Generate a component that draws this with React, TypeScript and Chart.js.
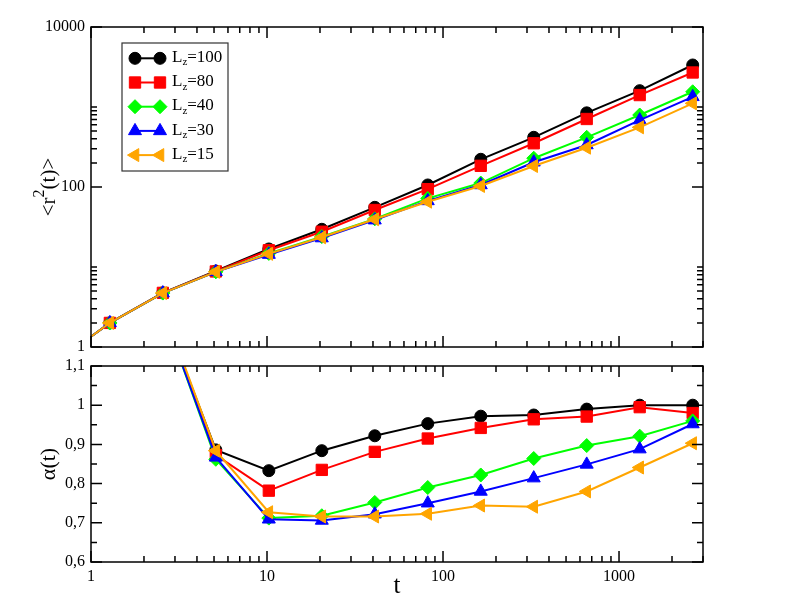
import React, { useEffect, useRef } from 'react';
import { Chart, registerables } from 'chart.js';
import { drawPoint } from 'chart.js/helpers';

Chart.register(...registerables);

// ---------- data ----------
const T_MSD = [0.64, 1.28, 2.56, 5.12, 10.24, 20.48, 40.96, 81.92, 163.84, 327.68, 655.36, 1310.72, 2621.44];
const MSD_LZ100 = [0.66, 2.0, 4.75, 8.9, 16.8, 29.6, 55.7, 106, 222, 418, 845, 1600, 3350];
const MSD_LZ80 = [0.66, 2.0, 4.75, 8.8, 16.2, 27.6, 51.6, 94, 184, 352, 708, 1410, 2700];
const MSD_LZ40 = [0.66, 2.0, 4.72, 8.7, 14.8, 24.0, 40.0, 72, 112, 229, 418, 794, 1550];
const MSD_LZ30 = [0.66, 2.0, 4.72, 8.7, 14.3, 23.0, 38.5, 67, 106, 204, 335, 686, 1340];
const MSD_LZ15 = [0.66, 2.0, 4.72, 8.7, 14.6, 23.5, 39.5, 65.5, 103, 183, 310, 557, 1110];

const T_ALPHA = [2.56, 5.12, 10.24, 20.48, 40.96, 81.92, 163.84, 327.68, 655.36, 1310.72, 2621.44];
const ALPHA_LZ100 = [1.24, 0.886, 0.833, 0.884, 0.922, 0.953, 0.972, 0.975, 0.990, 1.0, 1.0];
const ALPHA_LZ80 = [1.24, 0.873, 0.782, 0.835, 0.881, 0.915, 0.942, 0.964, 0.971, 0.995, 0.980];
const ALPHA_LZ40 = [1.24, 0.862, 0.712, 0.718, 0.752, 0.790, 0.822, 0.864, 0.897, 0.921, 0.960];
const ALPHA_LZ30 = [1.24, 0.867, 0.709, 0.706, 0.722, 0.750, 0.780, 0.814, 0.849, 0.888, 0.952];
const ALPHA_LZ15 = [1.25, 0.884, 0.727, 0.716, 0.716, 0.723, 0.744, 0.741, 0.780, 0.841, 0.903];

const SERIES_LZ = ['100', '80', '40', '30', '15'];
const MSD_SERIES = [MSD_LZ100, MSD_LZ80, MSD_LZ40, MSD_LZ30, MSD_LZ15];
const ALPHA_SERIES = [ALPHA_LZ100, ALPHA_LZ80, ALPHA_LZ40, ALPHA_LZ30, ALPHA_LZ15];

const X_TICKS = [1, 10, 100, 1000];
const MSD_TICKS = [1, 100, 10000];
const ALPHA_TICKS = [0.6, 0.7, 0.8, 0.9, 1.0, 1.1];

// ---------- styles ----------
const COLORS = ['#000000', '#ff0000', '#00ff00', '#0000ff', '#ffa500'];
const MARKERS = [
  { pointStyle: 'circle', radius: 6, rotation: 0 },
  { pointStyle: 'rect', radius: 8, rotation: 0 },
  { pointStyle: 'rectRot', radius: 7, rotation: 0 },
  { pointStyle: 'triangle', radius: 7.5, rotation: 0 },
  { pointStyle: 'triangle', radius: 7.5, rotation: -90 },
];

const W = 789;
const H = 610;
const LEFT = 91;
const RIGHT = 703;
const TOP1 = 27;
const BOT1 = 347;
const TOP2 = 366;
const BOT2 = 562;
const XAXIS_H = 40;
const SERIF = '"Liberation Serif", "Times New Roman", serif';

function makeDatasets(ts: number[], series: number[][]) {
  return series.map((vals, i) => ({
    label: 'Lz=' + SERIES_LZ[i],
    data: ts.map((t, j) => ({ x: t, y: vals[j] })),
    borderColor: COLORS[i],
    backgroundColor: COLORS[i],
    borderWidth: 2,
    pointStyle: MARKERS[i].pointStyle,
    pointRadius: MARKERS[i].radius,
    pointRotation: MARKERS[i].rotation,
    pointBorderWidth: 1,
    pointBorderColor: COLORS[i],
    pointBackgroundColor: COLORS[i],
    tension: 0,
    order: series.length - i,
    clip: 0,
  }));
}

function xMinorTicks() {
  const out: number[] = [];
  for (let k = 0; k < 4; k++) for (let m = 2; m <= 9; m++) out.push(m * Math.pow(10, k));
  return out;
}

function framePlugin(id: string, yMajor: number[], yMinor: number[]) {
  const xMinor = xMinorTicks();
  return {
    id,
    afterDraw(chart: any) {
      const { ctx, chartArea: a, scales } = chart;
      const xs = scales.x;
      const ys = scales.y;
      const MAJ = 11;
      const MIN = 6;
      ctx.save();
      ctx.strokeStyle = '#000';
      ctx.lineWidth = 1.5;
      ctx.beginPath();
      const tickX = (v: number, len: number) => {
        const px = xs.getPixelForValue(v);
        if (px < a.left - 0.5 || px > a.right + 0.5) return;
        ctx.moveTo(px, a.bottom);
        ctx.lineTo(px, a.bottom - len);
        ctx.moveTo(px, a.top);
        ctx.lineTo(px, a.top + len);
      };
      const tickY = (v: number, len: number) => {
        const py = ys.getPixelForValue(v);
        if (py < a.top - 0.5 || py > a.bottom + 0.5) return;
        ctx.moveTo(a.left, py);
        ctx.lineTo(a.left + len, py);
        ctx.moveTo(a.right, py);
        ctx.lineTo(a.right - len, py);
      };
      X_TICKS.forEach((v) => tickX(v, MAJ));
      xMinor.forEach((v) => tickX(v, MIN));
      yMajor.forEach((v) => tickY(v, MAJ));
      yMinor.forEach((v) => tickY(v, MIN));
      ctx.stroke();
      ctx.strokeRect(a.left, a.top, a.right - a.left, a.bottom - a.top);
      ctx.restore();
    },
  };
}

const topTitlesPlugin = {
  id: 'topTitles',
  afterDraw(chart: any) {
    const { ctx, chartArea: a } = chart;
    ctx.save();
    // y title <r^2(t)>
    ctx.fillStyle = '#000';
    ctx.textBaseline = 'alphabetic';
    ctx.translate(55, (a.top + a.bottom) / 2);
    ctx.rotate(-Math.PI / 2);
    const big = '21px ' + SERIF;
    const small = '16px ' + SERIF;
    ctx.font = big;
    const w1 = ctx.measureText('<r').width;
    const w3 = ctx.measureText('(t)>').width;
    ctx.font = small;
    const w2 = ctx.measureText('2').width;
    let x = -(w1 + w2 + w3) / 2;
    ctx.font = big;
    ctx.fillText('<r', x, 0);
    x += w1;
    ctx.font = small;
    ctx.fillText('2', x, -11);
    x += w2;
    ctx.font = big;
    ctx.fillText('(t)>', x, 0);
    ctx.restore();

    // legend
    const bx = 122, by = 43, bw = 106, bh = 128;
    ctx.save();
    ctx.fillStyle = '#fff';
    ctx.fillRect(bx, by, bw, bh);
    ctx.strokeStyle = '#333';
    ctx.lineWidth = 1.2;
    ctx.strokeRect(bx, by, bw, bh);
    for (let i = 0; i < SERIES_LZ.length; i++) {
      const cy = 58.3 + i * 24.2;
      const x1 = 135, x2 = 160;
      ctx.strokeStyle = COLORS[i];
      ctx.fillStyle = COLORS[i];
      ctx.lineWidth = 2;
      ctx.beginPath();
      ctx.moveTo(x1, cy);
      ctx.lineTo(x2, cy);
      ctx.stroke();
      ctx.lineWidth = 1;
      const m = MARKERS[i];
      drawPoint(ctx, { pointStyle: m.pointStyle, radius: m.radius, rotation: m.rotation, borderWidth: 1 } as any, x1, cy);
      drawPoint(ctx, { pointStyle: m.pointStyle, radius: m.radius, rotation: m.rotation, borderWidth: 1 } as any, x2, cy);
      ctx.fillStyle = '#000';
      ctx.textBaseline = 'alphabetic';
      ctx.textAlign = 'left';
      let tx = 172;
      ctx.font = '17px ' + SERIF;
      ctx.fillText('L', tx, cy + 3.6);
      tx += ctx.measureText('L').width;
      ctx.font = '11px ' + SERIF;
      ctx.fillText('z', tx, cy + 7);
      tx += ctx.measureText('z').width;
      ctx.font = '17px ' + SERIF;
      ctx.fillText('=' + SERIES_LZ[i], tx, cy + 3.6);
    }
    ctx.restore();
  },
};

const bottomTitlesPlugin = {
  id: 'bottomTitles',
  afterDraw(chart: any) {
    const { ctx, chartArea: a } = chart;
    ctx.save();
    ctx.fillStyle = '#000';
    ctx.font = '25px ' + SERIF;
    ctx.textAlign = 'center';
    ctx.textBaseline = 'alphabetic';
    ctx.fillText('t', (a.left + a.right) / 2, 593);
    ctx.font = '22px ' + SERIF;
    ctx.translate(55, (a.top + a.bottom) / 2);
    ctx.rotate(-Math.PI / 2);
    ctx.fillText('\u03b1(t)', 0, 0);
    ctx.restore();
  },
};

const tickFont = { family: SERIF, size: 16 };

function fmtAlpha(v: number) {
  return String(Math.round(v * 10) / 10).replace('.', ',');
}

export default function App() {
  const topRef = useRef<HTMLCanvasElement>(null);
  const botRef = useRef<HTMLCanvasElement>(null);

  useEffect(() => {
    const msdMinor: number[] = [];
    for (let m = 2; m <= 10; m++) msdMinor.push(m);
    for (let m = 2; m <= 10; m++) msdMinor.push(m * 100);
    const alphaMinor = [0.65, 0.75, 0.85, 0.95, 1.05];

    const top = new Chart(topRef.current as HTMLCanvasElement, {
      type: 'line',
      data: { datasets: makeDatasets(T_MSD, MSD_SERIES) as any },
      options: {
        responsive: false,
        animation: false,
        devicePixelRatio: 1,
        events: [],
        layout: { padding: { left: 0, top: TOP1, right: W - RIGHT, bottom: H - BOT1 } },
        plugins: { legend: { display: false }, tooltip: { enabled: false } },
        scales: {
          x: { type: 'logarithmic', min: 1, max: 3000, display: false },
          y: {
            type: 'logarithmic',
            min: 1,
            max: 10000,
            afterBuildTicks: (s: any) => {
              s.ticks = MSD_TICKS.map((v) => ({ value: v }));
            },
            afterFit: (s: any) => {
              s.width = LEFT;
            },
            ticks: {
              callback: (v: any) => String(v),
              font: tickFont,
              color: '#000',
              padding: 6,
              autoSkip: false,
            },
            grid: { display: false, drawTicks: false },
            border: { display: false },
          },
        },
      } as any,
      plugins: [framePlugin('frameTop', MSD_TICKS, msdMinor), topTitlesPlugin],
    });

    const bot = new Chart(botRef.current as HTMLCanvasElement, {
      type: 'line',
      data: { datasets: makeDatasets(T_ALPHA, ALPHA_SERIES) as any },
      options: {
        responsive: false,
        animation: false,
        devicePixelRatio: 1,
        events: [],
        layout: { padding: { left: 0, top: TOP2, right: W - RIGHT, bottom: H - BOT2 - XAXIS_H } },
        plugins: { legend: { display: false }, tooltip: { enabled: false } },
        scales: {
          x: {
            type: 'logarithmic',
            min: 1,
            max: 3000,
            afterBuildTicks: (s: any) => {
              s.ticks = X_TICKS.map((v) => ({ value: v }));
            },
            afterFit: (s: any) => {
              s.height = XAXIS_H;
            },
            ticks: {
              callback: (v: any) => String(v),
              font: tickFont,
              color: '#000',
              padding: 5,
              autoSkip: false,
              maxRotation: 0,
            },
            grid: { display: false, drawTicks: false },
            border: { display: false },
          },
          y: {
            type: 'linear',
            min: 0.6,
            max: 1.1,
            afterBuildTicks: (s: any) => {
              s.ticks = ALPHA_TICKS.map((v) => ({ value: v }));
            },
            afterFit: (s: any) => {
              s.width = LEFT;
            },
            ticks: {
              callback: (v: any) => fmtAlpha(Number(v)),
              font: tickFont,
              color: '#000',
              padding: 6,
              autoSkip: false,
            },
            grid: { display: false, drawTicks: false },
            border: { display: false },
          },
        },
      } as any,
      plugins: [framePlugin('frameBot', ALPHA_TICKS, alphaMinor), bottomTitlesPlugin],
    });

    return () => {
      top.destroy();
      bot.destroy();
    };
  }, []);

  const cs: React.CSSProperties = { position: 'absolute', left: 0, top: 0 };
  return (
    <div style={{ position: 'fixed', left: 0, top: 0, width: W, height: H, background: '#fff' }}>
      <canvas ref={topRef} width={W} height={H} style={cs} />
      <canvas ref={botRef} width={W} height={H} style={cs} />
    </div>
  );
}
